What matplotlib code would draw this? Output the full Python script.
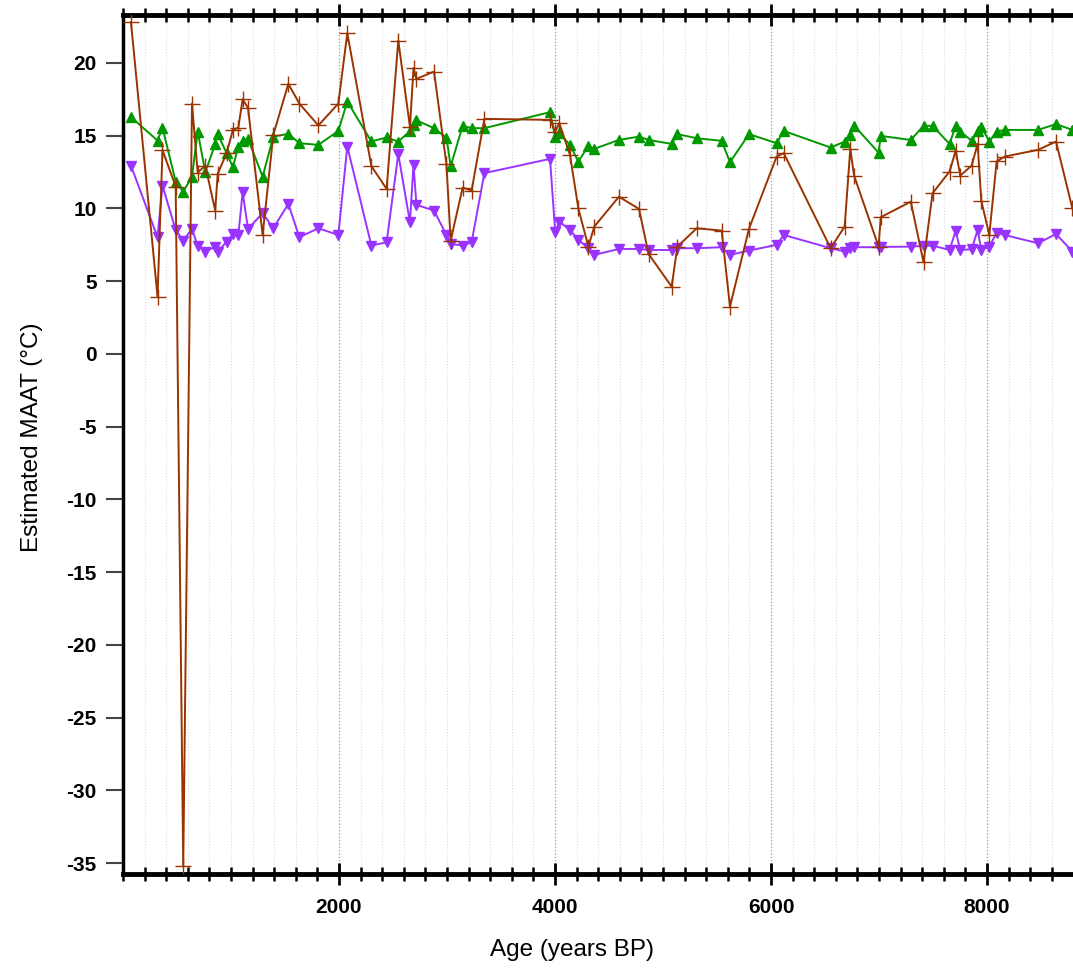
import numpy as np
import matplotlib.pyplot as plt
from matplotlib.ticker import MultipleLocator

plt.rcParams['font.family'] = ['Liberation Sans', 'DejaVu Sans']
plt.rcParams['axes.unicode_minus'] = False

# age (years BP) shared by the three reconstructions
ages = [74, 320, 366, 488, 558, 639, 692, 762, 854, 877, 960, 1018, 1068, 1108, 1158,
        1293, 1392, 1531, 1633, 1809, 1994, 2077, 2300, 2441, 2549, 2657, 2690, 2717,
        2880, 2995, 3034, 3145, 3228, 3346, 3954, 4002, 4040, 4139, 4216, 4309, 4364,
        4592, 4778, 4866, 5080, 5133, 5312, 5543, 5620, 5796, 6052, 6118, 6552, 6682,
        6734, 6769, 6996, 7016, 7294, 7412, 7496, 7653, 7710, 7752, 7858, 7913, 7947,
        8021, 8089, 8164, 8472, 8639, 8790]

maat_brown = [22.8, 3.93, 14.0, 11.5, -35.2, 17.2, 12.46, 12.94, 9.85, 12.37, 13.8, 15.4,
              15.55, 17.5, 16.9, 8.17, 15.05, 18.56, 17.2, 15.7, 17.2, 22.04, 12.9, 11.34,
              21.53, 15.6, 19.63, 18.9, 19.4, 13.03, 7.78, 11.43, 11.22, 16.15, 16.08,
              15.28, 15.85, 13.67, 10.0, 7.37, 8.75, 10.8, 9.96, 6.87, 4.62, 7.37, 8.63,
              8.47, 3.25, 8.59, 13.56, 13.79, 7.26, 8.75, 14.09, 12.25, 7.37, 9.39, 10.46,
              6.3, 11.04, 12.53, 13.97, 12.25, 12.94, 14.43, 10.53, 8.17, 13.22, 13.56,
              14.02, 14.59, 10.0]

maat_green = [16.27, 14.66, 15.55, 11.84, 11.15, 12.18, 15.28, 12.48, 14.41, 15.1, 13.79,
              12.83, 14.25, 14.66, 14.77, 12.18, 14.93, 15.12, 14.48, 14.36, 15.32, 17.34,
              14.6, 14.87, 14.59, 15.3, 15.7, 16.05, 15.51, 14.85, 12.9, 15.67, 15.51,
              15.51, 16.61, 14.87, 15.17, 14.36, 13.21, 14.29, 14.09, 14.7, 14.93, 14.7,
              14.43, 15.1, 14.82, 14.64, 13.17, 15.1, 14.48, 15.32, 14.18, 14.59, 15.05,
              15.69, 13.83, 14.98, 14.7, 15.67, 15.67, 14.43, 15.67, 15.28, 14.64, 15.32,
              15.62, 14.59, 15.28, 15.39, 15.39, 15.79, 15.39]

maat_purple = [12.94, 8.02, 11.56, 8.52, 7.78, 8.59, 7.42, 7.03, 7.37, 7.03, 7.71, 8.22,
               8.17, 11.1, 8.59, 9.67, 8.63, 10.31, 8.02, 8.63, 8.17, 14.25, 7.44, 7.67,
               13.74, 9.05, 13.0, 10.24, 9.85, 8.17, 7.56, 7.44, 7.67, 12.42, 13.4, 8.36,
               9.09, 8.52, 7.83, 7.26, 6.8, 7.21, 7.21, 7.14, 7.14, 7.26, 7.26, 7.33, 6.8,
               7.1, 7.49, 8.17, 7.26, 7.03, 7.26, 7.33, 7.33, 7.35, 7.37, 7.42, 7.44, 7.14,
               8.45, 7.14, 7.19, 8.52, 7.14, 7.37, 8.33, 8.17, 7.6, 8.24, 7.03]

fig = plt.figure(figsize=(10.73, 9.69), dpi=100)
ax = fig.add_axes([0.1146, 0.098, 0.8854, 0.8867])

ax.plot(ages, maat_green, color='#009900', marker='^', markersize=7, linewidth=1.4, zorder=3)
ax.plot(ages, maat_purple, color='#9933FF', marker='v', markersize=7, linewidth=1.4, zorder=3)
ax.plot(ages, maat_brown, color='#993300', marker='+', markersize=11, markeredgewidth=1.0,
        linewidth=1.4, zorder=4)

ax.set_xlim(0, 8796)
ax.set_ylim(-35.75, 23.3)

ax.xaxis.set_major_locator(MultipleLocator(2000))
ax.xaxis.set_minor_locator(MultipleLocator(200))
ax.yaxis.set_major_locator(MultipleLocator(5))
ax.set_xticks([t for t in ax.get_xticks() if 0 < t < 8796])

ax.grid(True, axis='x', which='major', color='#999999', linestyle=':', linewidth=0.9)
ax.grid(True, axis='x', which='minor', color='#dddddd', linestyle=':', linewidth=0.8)

ax.tick_params(axis='x', which='major', direction='inout', length=16, width=2,
               top=True, labelsize=15, pad=9)
ax.tick_params(axis='x', which='minor', direction='inout', length=10, width=1.8, top=True)
ax.tick_params(axis='y', which='major', direction='out', length=12, width=1.5,
               color='#444444', labelsize=15, pad=7)
for lab in ax.get_xticklabels() + ax.get_yticklabels():
    lab.set_fontweight('bold')

ax.spines['left'].set_linewidth(2.5)
for side in ['top', 'bottom']:
    ax.spines[side].set_linewidth(3.5)
ax.spines['right'].set_visible(False)

ax.set_xlabel('Age (years BP)', fontsize=17.5)
ax.xaxis.set_label_coords((572 - 123) / 950, -0.076)
ax.set_ylabel('Estimated MAAT (°C)', fontsize=17.5)
ax.yaxis.set_label_coords(-0.084, 0.508)

fig.savefig('out.png', dpi=100)
